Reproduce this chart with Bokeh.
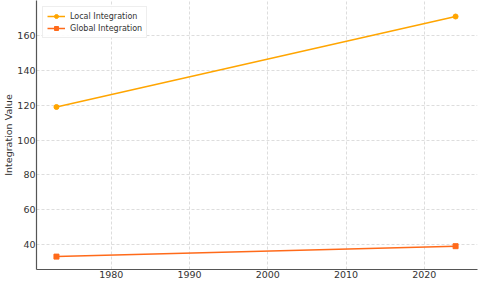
from bokeh.plotting import figure
from bokeh.models import Range1d, Legend, LegendItem, FixedTicker
from bokeh.embed import file_html
from bokeh.resources import INLINE

years = [1973, 2024]
local_integration = [119, 171]
global_integration = [33, 39]
x_ticks = [1980, 1990, 2000, 2010, 2020]
y_ticks = [40, 60, 80, 100, 120, 140, 160]

p = figure(width=478, height=280, output_backend="svg", toolbar_location=None,
           x_range=Range1d(1970.45, 2026.8), y_range=Range1d(25.6, 180.2),
           min_border_left=30, min_border_right=1, min_border_top=0, min_border_bottom=0)
p.outline_line_color = None
p.background_fill_color = "white"

l1 = p.line(years, local_integration, line_color="#FFA500", line_width=1.5)
m1 = p.scatter(years, local_integration, marker="circle", size=5, fill_color="#FFA500", line_color="#FFA500")
l2 = p.line(years, global_integration, line_color="#FF6A1A", line_width=1.5)
m2 = p.scatter(years, global_integration, marker="square", size=5, fill_color="#FF6A1A", line_color="#FF6A1A")

p.xaxis.ticker = FixedTicker(ticks=x_ticks)
p.yaxis.ticker = FixedTicker(ticks=y_ticks)
for ax in (p.xaxis[0], p.yaxis[0]):
    ax.major_label_text_font = "DejaVu Sans"
    ax.major_label_text_font_size = "9.5px"
    ax.major_label_text_color = "#333333"
    ax.axis_line_color = "#555555"
    ax.axis_line_width = 1.2
    ax.major_tick_out = 0
    ax.major_tick_in = 0
    ax.minor_tick_out = 0
    ax.minor_tick_in = 0
    ax.major_label_standoff = 1
p.yaxis.major_label_standoff = 1
p.yaxis.axis_label = "Integration Value"
p.yaxis.axis_label_text_font = "DejaVu Sans"
p.yaxis.axis_label_text_font_size = "9.5px"
p.yaxis.axis_label_text_font_style = "normal"
p.yaxis.axis_label_text_color = "#333333"
p.yaxis.axis_label_standoff = 0

p.xgrid.grid_line_color = "#dddddd"
p.ygrid.grid_line_color = "#dddddd"
p.xgrid.grid_line_dash = "3 2"
p.ygrid.grid_line_dash = "3 2"

legend = Legend(items=[LegendItem(label="Local Integration", renderers=[l1, m1]),
                       LegendItem(label="Global Integration", renderers=[l2, m2])],
                location="top_left")
legend.label_text_font = "DejaVu Sans"
legend.label_text_font_size = "8px"
legend.label_text_color = "#333333"
legend.glyph_width = 18
legend.glyph_height = 10
legend.label_height = 10
legend.spacing = 2
legend.padding = 4
legend.margin = 6
legend.label_standoff = 5
legend.border_line_color = "#dddddd"
legend.background_fill_alpha = 0.9
p.add_layout(legend)

open("out.html", "w").write(file_html(p, INLINE))
